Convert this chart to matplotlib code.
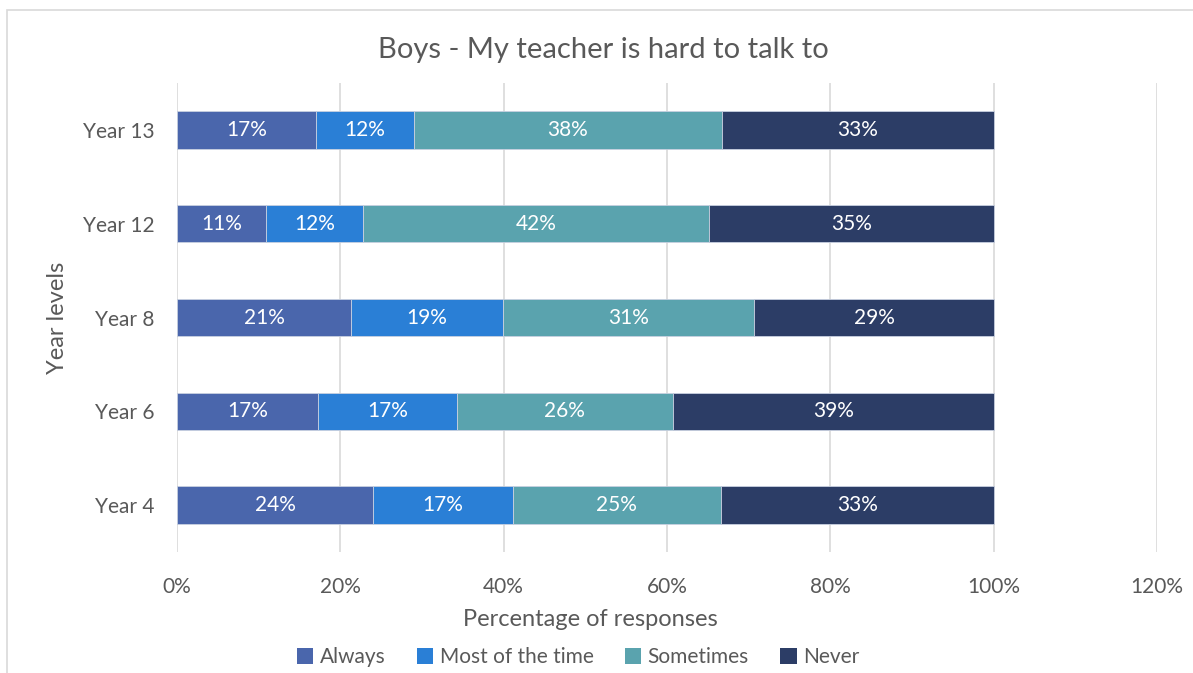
import matplotlib
matplotlib.use("Agg")
import matplotlib.pyplot as plt
from matplotlib.patches import Rectangle

categories = ["Year 4", "Year 6", "Year 8", "Year 12", "Year 13"]
series_names = ["Always", "Most of the time", "Sometimes", "Never"]
always = [24.0, 17.3, 21.3, 10.9, 17.0]
most = [17.1, 17.0, 18.6, 11.9, 12.0]
sometimes = [25.5, 26.4, 30.8, 42.4, 37.7]
never = [33.4, 39.3, 29.3, 34.8, 33.3]
labels = [
    ["24%", "17%", "21%", "11%", "17%"],
    ["17%", "17%", "19%", "12%", "12%"],
    ["25%", "26%", "31%", "42%", "38%"],
    ["33%", "39%", "29%", "35%", "33%"],
]
colors = ["#4A66AC", "#2A7FD6", "#5AA3AE", "#2C3D66"]
xticks = [0, 20, 40, 60, 80, 100, 120]
xticklabels = ["0%", "20%", "40%", "60%", "80%", "100%", "120%"]

plt.rcParams['font.family'] = ['Lato', 'DejaVu Sans']
W, H = 1193, 673
fig = plt.figure(figsize=(W / 100, H / 100), dpi=100)
fig.patches.append(Rectangle((7 / W, -0.1), 1.2, (H - 10) / H + 0.1, transform=fig.transFigure,
                             facecolor="none", edgecolor="#D9D9D9", linewidth=1.2, zorder=-1))

ax = fig.add_axes([177 / W, (H - 552) / H, (1157 - 177) / W, (552 - 83) / H])
ax.set_zorder(2)
ax.set_facecolor("none")
data = [always, most, sometimes, never]
left = [0.0] * len(categories)
ypos = list(range(len(categories)))
for i, (vals, name) in enumerate(zip(data, series_names)):
    bars = ax.barh(ypos, vals, left=left, height=0.4, color=colors[i], label=name,
                   edgecolor="#C8D0E0", linewidth=0.6, zorder=3)
    for j, b in enumerate(bars):
        ax.text(left[j] + vals[j] / 2, ypos[j], labels[i][j], ha="center", va="center",
                color="white", fontsize=15, zorder=4)
    left = [l + v for l, v in zip(left, vals)]

ax.set_xlim(0, 120)
ax.set_ylim(-0.5, len(categories) - 0.5)
ax.set_xticks(xticks)
ax.set_xticklabels(xticklabels, fontsize=15, color="#595959")
ax.set_yticks(ypos)
ax.set_yticklabels(categories, fontsize=15, color="#595959")
ax.tick_params(axis="x", length=0, pad=18)
ax.tick_params(axis="y", length=0, pad=16)
ax.grid(axis="x", color="#D9D9D9", linewidth=1.2, zorder=0)
for s in ax.spines.values():
    s.set_visible(False)

ax.set_xlabel("Percentage of responses", fontsize=17, color="#595959")
ax.xaxis.set_label_coords((590 - 177) / (1157 - 177), -(619 - 552) / (552 - 83))
ax.xaxis.label.set_va("center")
ax.set_ylabel("Year levels", fontsize=17, color="#595959")
ax.yaxis.set_label_coords(-(177 - 57) / (1157 - 177), 0.5)
ax.yaxis.label.set_va("center")
fig.text(603 / W, 1 - 50 / H, "Boys - My teacher is hard to talk to", ha="center", va="center",
         fontsize=21, color="#595959")

leg = fig.legend(loc="center", bbox_to_anchor=(578 / W, 1 - 657 / H), ncol=4, frameon=False,
                 fontsize=15, handlelength=0.8, handleheight=0.8, handletextpad=0.3,
                 columnspacing=1.5, labelcolor="#595959")
for h in leg.legend_handles:
    h.set_edgecolor("none")

fig.savefig("out.png", dpi=100)
